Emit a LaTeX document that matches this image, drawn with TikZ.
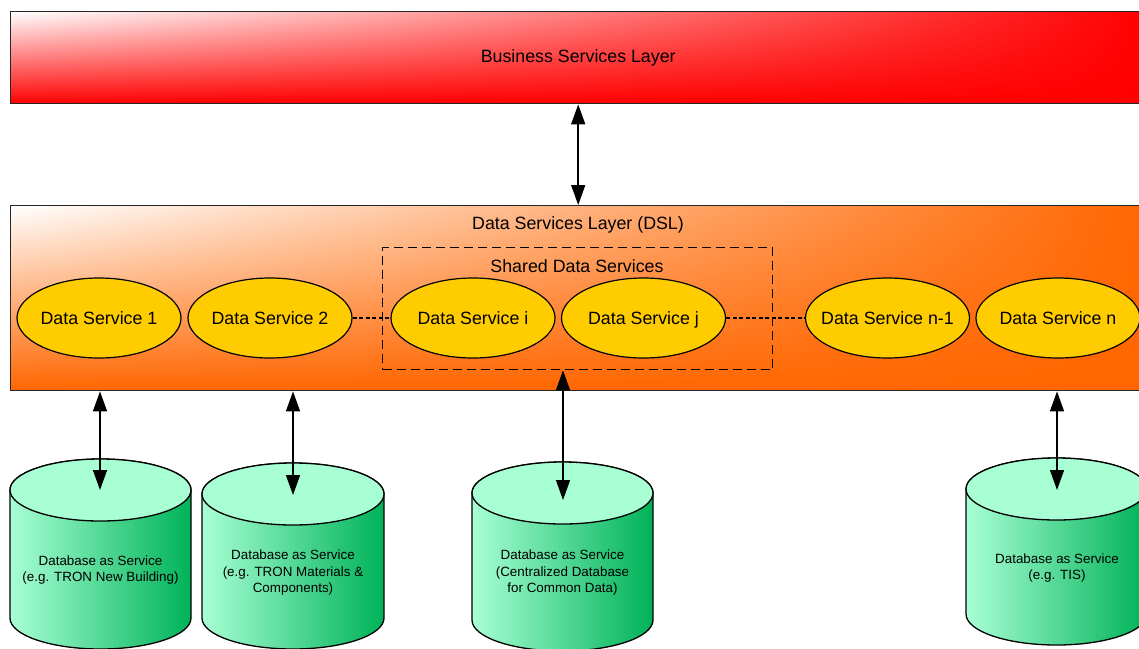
\documentclass[tikz,border=0pt]{standalone}
\usepackage{fontspec}
\setmainfont{Liberation Sans}
\usetikzlibrary{arrows.meta,shapes.geometric,shadings}
\definecolor{dsorange}{RGB}{255,102,0}
\definecolor{bred}{RGB}{255,0,0}
\definecolor{gold}{RGB}{255,204,0}
\definecolor{mintL}{RGB}{168,255,212}
\definecolor{mintD}{RGB}{0,178,88}
\newcommand\bigfnt{\fontsize{17.8}{21}\selectfont}
\newcommand\smallfnt{\fontsize{13.4}{16.5}\selectfont}
\newcommand\svctext[1]{\makebox[0pt][c]{#1}}
\tikzset{
  layer/.style={rectangle, anchor=north west, inner sep=0pt, minimum width=1135pt, draw=black!85, line width=1.4pt, font=\bigfnt},
  svc/.style={ellipse, draw=black, line width=1.2pt, fill=gold, minimum width=164pt, minimum height=80pt, inner sep=0pt, font=\bigfnt, text height=14.8pt, text depth=2pt},
  arr/.style={{Triangle[length=20pt,width=14pt]}-{Triangle[length=20pt,width=14pt]}, line width=1.5pt},
  dots/.style={line width=2.4pt, dash pattern=on 4pt off 2.5pt},
  dbtext/.style={align=center, font=\smallfnt, inner sep=0pt},
  dbbody/.style={left color=mintL, right color=mintD, draw=black, line width=1.3pt},
  dbtop/.style={fill=mintL, draw=black, line width=1.3pt},
  title/.style={font=\bigfnt, inner sep=0pt}
}
\begin{document}
\begin{tikzpicture}[x=1pt,y=-1pt]
\useasboundingbox (0,0) rectangle (1139,648);
\clip (0,0) rectangle (1139,648);

% layers
\node[layer, minimum height=92pt, shade, upper left=white, upper right=bred, lower left=bred, lower right=bred] (bsl) at (10,11) {Business Services Layer};
\node[layer, minimum height=185pt, shade, upper left=white, upper right=dsorange, lower left=dsorange, lower right=dsorange] (dsl) at (10,205) {};
\node[title] (dsltitle) at (578,225) {Data Services Layer (DSL)};

% shared box
\node[draw, dash pattern=on 9pt off 5pt, line width=1.3pt, anchor=north west, minimum width=390pt, minimum height=122pt, inner sep=0pt] (shared) at (382,247) {};
\node[title] (sharedtitle) at (577,266) {Shared Data Services};

% services
\node[svc] (ds1) at (99,318) {\svctext{Data Service 1}};
\node[svc] (ds2) at (270,318) {\svctext{Data Service 2}};
\node[svc] (dsi) at (473,318) {\svctext{Data Service i}};
\node[svc] (dsj) at (643.5,318) {\svctext{Data Service j}};
\node[svc] (dsn1) at (887.5,318) {\svctext{Data Service n-1}};
\node[svc] (dsn) at (1058,318) {\svctext{Data Service n}};

\draw[dots] (ds2) -- (dsi);
\draw[dots] (dsj) -- (dsn1);

% databases
\shade[dbbody] (10,490) -- (10,618) arc[start angle=180, end angle=360, x radius=90.5pt, y radius=31pt] -- (191,490) arc[start angle=0, end angle=180, x radius=90.5pt, y radius=31pt] -- cycle;
\filldraw[dbtop] (100.5,490) ellipse [x radius=90.5pt, y radius=31pt];
\coordinate (db1top) at (100,490);
\node[dbtext] (db1) at (100.5,570) {Database as Service\\(e.g. TRON New Building)};

\shade[dbbody] (202,494) -- (202,618) arc[start angle=180, end angle=360, x radius=91pt, y radius=31pt] -- (384,494) arc[start angle=0, end angle=180, x radius=91pt, y radius=31pt] -- cycle;
\filldraw[dbtop] (293,494) ellipse [x radius=91pt, y radius=31pt];
\coordinate (db2top) at (293,495);
\node[dbtext] (db2) at (293,573) {Database as Service\\(e.g. TRON Materials \&\\Components)};

\shade[dbbody] (472,493) -- (472,620) arc[start angle=180, end angle=360, x radius=90.5pt, y radius=31pt] -- (653,493) arc[start angle=0, end angle=180, x radius=90.5pt, y radius=31pt] -- cycle;
\filldraw[dbtop] (562.5,493) ellipse [x radius=90.5pt, y radius=31pt];
\coordinate (db3top) at (563,500);
\node[dbtext] (db3) at (562.5,573) {Database as Service\\(Centralized Database\\for Common Data)};

\shade[dbbody] (966,489) -- (966,614) arc[start angle=180, end angle=360, x radius=90.5pt, y radius=31pt] -- (1147,489) arc[start angle=0, end angle=180, x radius=90.5pt, y radius=31pt] -- cycle;
\filldraw[dbtop] (1056.5,489) ellipse [x radius=90.5pt, y radius=31pt];
\coordinate (db4top) at (1057,490);
\node[dbtext] (db4) at (1057,568) {Database as Service\\(e.g. TIS)};

% arrows
\draw[arr] (bsl.south) -- (dsl.north);
\draw[arr] (dsl.south -| db1top) -- (db1top);
\draw[arr] (dsl.south -| db2top) -- (db2top);
\draw[arr] (shared.south -| db3top) -- (db3top);
\draw[arr] (dsl.south -| db4top) -- (db4top);
\end{tikzpicture}
\end{document}
